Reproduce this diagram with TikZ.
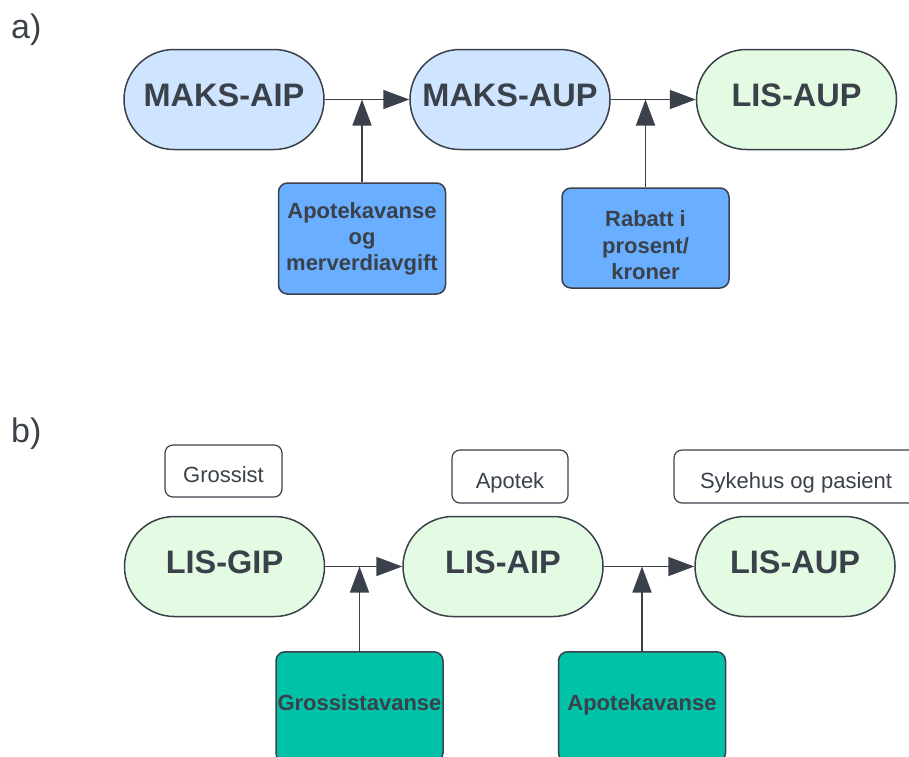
\documentclass[tikz,border=0pt]{standalone}
\usepackage{fontspec}
\setmainfont{Liberation Sans}
\usepackage{tikz}
\usetikzlibrary{arrows.meta}
\definecolor{linecol}{HTML}{3A414A}
\definecolor{pillblue}{HTML}{CFE4FF}
\definecolor{pillgreen}{HTML}{E3FAE3}
\definecolor{boxblue}{HTML}{6AAEFF}
\definecolor{boxteal}{HTML}{00C2A8}
\tikzset{>={Triangle[length=26pt,width=19pt]}}
\tikzset{
  pill/.style={draw=linecol, line width=1.5pt, rounded corners=50pt,
    minimum width=200pt, minimum height=100pt, inner sep=0pt, text=linecol,
    font=\fontsize{32.5}{39}\selectfont\bfseries, text height=24pt, text depth=10pt},
  addbox/.style={draw=linecol, line width=1.5pt, rounded corners=9pt,
    minimum width=167pt, inner sep=0pt, text=linecol, align=center,
    font=\fontsize{22}{26}\selectfont\bfseries},
  addtext/.style={inner sep=0pt, text=linecol, align=center,
    font=\fontsize{22}{26.5}\selectfont\bfseries},
  rolebox/.style={draw=linecol, line width=1.2pt, rounded corners=8pt,
    minimum width=117pt, minimum height=53pt, inner sep=0pt, text=linecol,
    font=\fontsize{22}{26}\selectfont, text height=23pt, text depth=0pt},
  tag/.style={inner sep=0pt, text=linecol, font=\fontsize{34}{40}\selectfont},
  flow/.style={draw=linecol, line width=1.6pt}
}

\begin{document}
\begin{tikzpicture}[x=1pt,y=-1pt]
\useasboundingbox (0,0) rectangle (909,756);
\clip (0,0) rectangle (909,756);

% a) maksimalpriser
\node[tag, anchor=base west] (taga) at (11,38) {a)};
\node[pill, fill=pillblue] (maksaip) at (224,99.5) {MAKS-AIP};
\node[pill, fill=pillblue] (maksaup) at (510,99.5) {MAKS-AUP};
\node[pill, fill=pillgreen] (lisaupa) at (796.5,99.5) {LIS-AUP};
\node[addbox, fill=boxblue, minimum height=111pt] (mva) at (362,238.5) {Apotekavanse\\og\\merverdiavgift};
\node[addbox, fill=boxblue, minimum height=100pt] (rabatt) at (645.5,238) {};
\node[addtext] (rabatttxt) at (645.5,245.5) {Rabatt i\\prosent/\\kroner};

\draw[flow, ->] (maksaip) -- (maksaup);
\draw[flow, ->] (maksaup) -- (lisaupa);
\draw[flow, ->] (mva) -- (mva |- maksaip.east);
\draw[flow, ->] (rabatt) -- (rabatt |- maksaup.east);

% b) LIS-priser
\node[tag, anchor=base west] (tagb) at (11,442) {b)};
\node[rolebox, minimum height=52pt] (grossist) at (223.5,471) {Grossist};
\node[rolebox, minimum width=116pt] (apotek) at (510,476.5) {Apotek};
\node[rolebox, minimum width=244pt] (sykehus) at (796,476.5) {Sykehus og pasient};
\node[pill, fill=pillgreen] (lisgip) at (224.5,566.5) {LIS-GIP};
\node[pill, fill=pillgreen] (lisaip) at (503,566.5) {LIS-AIP};
\node[pill, fill=pillgreen] (lisaupb) at (795,566.5) {LIS-AUP};
\node[addbox, fill=boxteal, minimum height=110pt, anchor=north,
  text height=16pt, text depth=8pt] (gavanse) at (359.5,651) {Grossistavanse};
\node[addbox, fill=boxteal, minimum height=110pt, anchor=north,
  text height=16pt, text depth=8pt] (aavanse) at (642,651) {Apotekavanse};

\draw[flow, ->] (lisgip) -- (lisaip);
\draw[flow, ->] (lisaip) -- (lisaupb);
\draw[flow, ->] (gavanse) -- (gavanse |- lisgip.east);
\draw[flow, ->] (aavanse) -- (aavanse |- lisaip.east);
\end{tikzpicture}
\end{document}
